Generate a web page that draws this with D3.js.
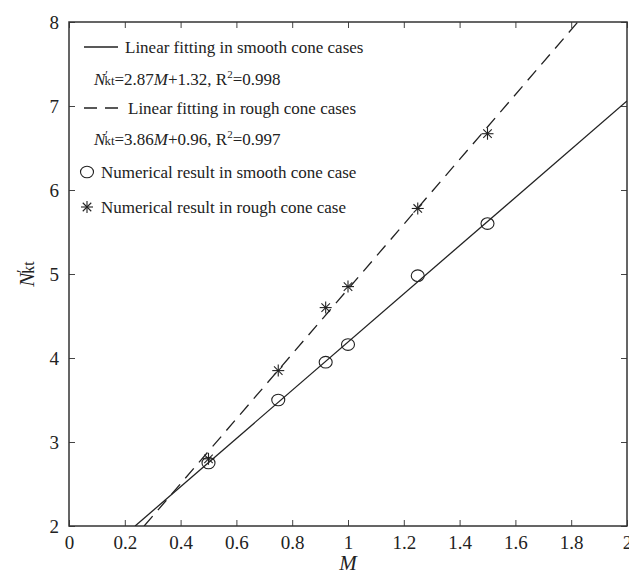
<!DOCTYPE html>
<html>
<head>
<meta charset="utf-8">
<script src="https://cdn.jsdelivr.net/npm/d3@7"></script>
<style>
  body { margin: 0; background: #fff; }
</style>
</head>
<body>
<svg id="chart" width="629" height="576" font-family="'Liberation Serif', 'DejaVu Serif', serif"></svg>
<script>
// data
var m_vals      = [0.5, 0.75, 0.92, 1.0, 1.25, 1.5];
var smooth_vals = [2.75, 3.5, 3.95, 4.16, 4.98, 5.6];
var rough_vals  = [2.8, 3.85, 4.6, 4.85, 5.78, 6.67];

// fitted lines: slope, intercept
var smooth_fit = [2.87, 1.32];
var rough_fit  = [3.86, 0.96];

var x_ticks = [0, 0.2, 0.4, 0.6, 0.8, 1, 1.2, 1.4, 1.6, 1.8, 2];
var y_ticks = [2, 3, 4, 5, 6, 7, 8];

var SERIF = "'Liberation Serif', 'DejaVu Serif', serif";
var margin = { left: 69, right: 2, top: 22, bottom: 50 };
var W = 629, H = 576;

var svg = d3.select("#chart");

var x = d3.scaleLinear().domain([0, 2]).range([margin.left, W - margin.right]);
var y = d3.scaleLinear().domain([2, 8]).range([H - margin.bottom, margin.top]);

// Clip for the lines
svg.append("clipPath").attr("id", "plot-clip")
  .append("rect")
  .attr("x", x(0)).attr("y", y(8))
  .attr("width", x(2) - x(0)).attr("height", y(2) - y(8));

// Axes, ticks pointing inward on all four sides
function style_axis(g) {
  g.attr("font-family", SERIF).attr("font-size", 19);
  g.select(".domain").remove();
  g.selectAll(".tick line").attr("stroke", "#444");
  g.selectAll(".tick text").attr("fill", "#222");
}

svg.append("g")
  .attr("transform", "translate(0," + y(2) + ")")
  .call(d3.axisBottom(x).tickValues(x_ticks).tickSizeInner(-6).tickPadding(10).tickFormat(d3.format("")))
  .call(style_axis);

svg.append("g")
  .attr("transform", "translate(0," + y(8) + ")")
  .call(d3.axisTop(x).tickValues(x_ticks).tickSizeInner(-6).tickFormat(""))
  .call(style_axis);

svg.append("g")
  .attr("transform", "translate(" + x(0) + ",0)")
  .call(d3.axisLeft(y).tickValues(y_ticks).tickSizeInner(-6).tickPadding(10).tickFormat(d3.format("d")))
  .call(style_axis);

svg.append("g")
  .attr("transform", "translate(" + x(2) + ",0)")
  .call(d3.axisRight(y).tickValues(y_ticks).tickSizeInner(-6).tickFormat(""))
  .call(style_axis);

// frame
svg.append("rect")
  .attr("x", x(0)).attr("y", y(8))
  .attr("width", x(2) - x(0)).attr("height", y(2) - y(8))
  .attr("fill", "none").attr("stroke", "#333").attr("stroke-width", 1.5);

// Fitted lines
function fit_line(fit) {
  var x0 = (2 - fit[1]) / fit[0];
  var x1 = Math.min(2, (8 - fit[1]) / fit[0]);
  return [[x0, 2], [x1, fit[0] * x1 + fit[1]]];
}

var line = d3.line().x(function (d) { return x(d[0]); }).y(function (d) { return y(d[1]); });

svg.append("path")
  .attr("d", line(fit_line(smooth_fit)))
  .attr("clip-path", "url(#plot-clip)")
  .attr("fill", "none").attr("stroke", "#222").attr("stroke-width", 1.3);

svg.append("path")
  .attr("d", line(fit_line(rough_fit)))
  .attr("clip-path", "url(#plot-clip)")
  .attr("fill", "none").attr("stroke", "#222").attr("stroke-width", 1.3)
  .attr("stroke-dasharray", "13,8");

// Markers
function draw_circle(g, cx, cy) {
  g.append("ellipse")
    .attr("cx", cx).attr("cy", cy).attr("rx", 6.5).attr("ry", 5.8)
    .attr("fill", "none").attr("stroke", "#222").attr("stroke-width", 1.1);
}

function draw_star(g, cx, cy) {
  var r = 6;
  [0, 45, 90, 135].forEach(function (a) {
    var rad = a * Math.PI / 180;
    g.append("line")
      .attr("x1", cx - r * Math.cos(rad)).attr("y1", cy - r * Math.sin(rad))
      .attr("x2", cx + r * Math.cos(rad)).attr("y2", cy + r * Math.sin(rad))
      .attr("stroke", "#222").attr("stroke-width", 1.1);
  });
}

var marks = svg.append("g");
m_vals.forEach(function (m, i) {
  draw_circle(marks, x(m), y(smooth_vals[i]));
  draw_star(marks, x(m), y(rough_vals[i]));
});

// Legend
var lg = svg.append("g").attr("font-family", SERIF).attr("fill", "#222");
var fs = 17;

// N' with subscript kt, appended into a text element
function add_nkt(t, size) {
  t.append("tspan").attr("font-style", "italic").text("N");
  t.append("tspan").attr("font-size", size * 0.7).attr("dx", 0).attr("dy", -size * 0.35).text("′");
  t.append("tspan").attr("font-size", size * 0.75).attr("dx", -size * 0.2).attr("dy", size * 0.35).text("kt");
}

lg.append("line").attr("x1", 84).attr("x2", 118).attr("y1", 47).attr("y2", 47)
  .attr("stroke", "#222").attr("stroke-width", 1.3);
lg.append("text").attr("x", 125).attr("y", 53).attr("font-size", fs)
  .text("Linear fitting in smooth cone cases");

function eq_text(ypos, slope, icpt, r2) {
  var t = lg.append("text").attr("x", 94).attr("y", ypos).attr("font-size", fs);
  add_nkt(t, fs);
  t.append("tspan").text("=" + slope);
  t.append("tspan").attr("font-style", "italic").text("M");
  t.append("tspan").text("+" + icpt + ", R");
  t.append("tspan").attr("font-size", 11).attr("dy", -7).text("2");
  t.append("tspan").attr("dy", 7).text("=" + r2);
}

eq_text(85, "2.87", "1.32", "0.998");

lg.append("line").attr("x1", 84).attr("x2", 118).attr("y1", 108).attr("y2", 108)
  .attr("stroke", "#222").attr("stroke-width", 1.3).attr("stroke-dasharray", "13,8");
lg.append("text").attr("x", 128).attr("y", 114).attr("font-size", fs)
  .text("Linear fitting in rough cone cases");

eq_text(145, "3.86", "0.96", "0.997");

draw_circle(lg, 87, 172);
lg.append("text").attr("x", 101).attr("y", 178).attr("font-size", fs)
  .text("Numerical result in smooth cone case");

draw_star(lg, 87, 207);
lg.append("text").attr("x", 101).attr("y", 213).attr("font-size", fs)
  .text("Numerical result in rough cone case");

// Axis titles
svg.append("text")
  .attr("x", (x(0) + x(2)) / 2).attr("y", 570)
  .attr("text-anchor", "middle")
  .attr("font-size", 21).attr("font-style", "italic").attr("fill", "#222")
  .text("M");

var yt = svg.append("text")
  .attr("transform", "translate(34," + y(5) + ") rotate(-90)")
  .attr("text-anchor", "middle")
  .attr("font-size", 21).attr("fill", "#222");
add_nkt(yt, 21);
</script>
</body>
</html>
